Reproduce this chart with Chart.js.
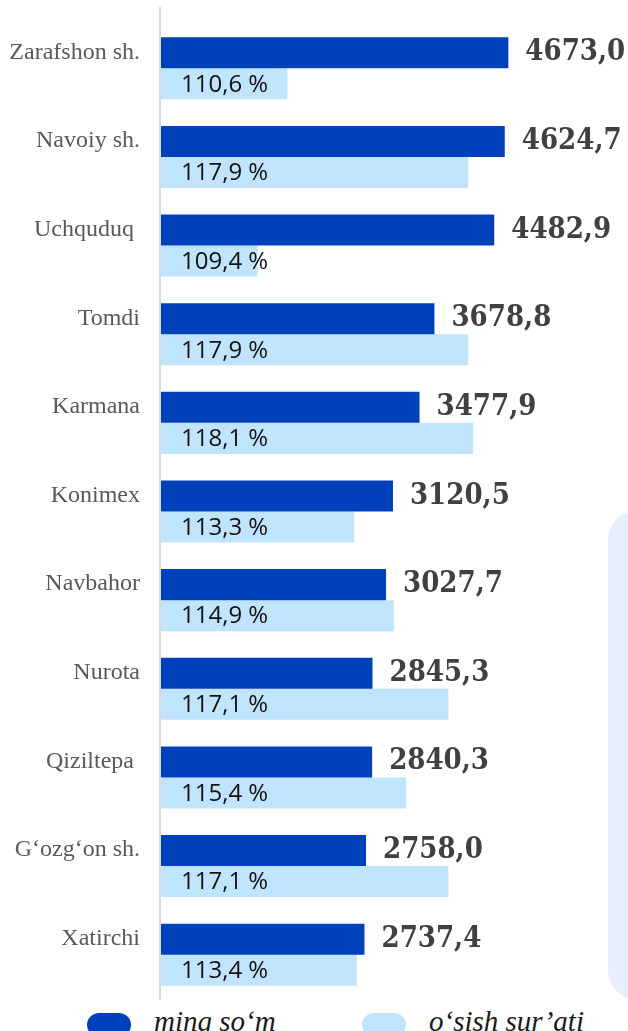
<!DOCTYPE html>
<html>
<head>
<meta charset="utf-8">
<script src="https://cdn.jsdelivr.net/npm/chart.js@4.4.1/dist/chart.umd.min.js"></script>
<style>
  body { margin: 0; background: #fff; width: 628px; height: 1031px; overflow: hidden; position: relative; }
  #panel { position: absolute; left: 608px; top: 510px; width: 60px; height: 490px; border-radius: 30px; background: #e9eefc; }
  #wrap { position: absolute; left: 0; top: 0; width: 628px; height: 1000px; }
  .lg-box { position: absolute; top: 1013px; width: 44px; height: 24px; border-radius: 12px; }
  .lg-txt { position: absolute; top: 1004px; font: italic 29px "Liberation Serif", serif; color: #1a1a1a; line-height: 34px; white-space: nowrap; }
</style>
</head>
<body>
<div id="panel"></div>
<div id="wrap"><canvas id="barChart"></canvas></div>
<div id="legend"></div>

<script>
// districts
var categories = ['Zarafshon sh.', 'Navoiy sh.', 'Uchquduq ', 'Tomdi', 'Karmana', 'Konimex',
                  'Navbahor', 'Nurota', 'Qiziltepa ', 'G\u2018ozg\u2018on sh.', 'Xatirchi'];
// ming so'm
var amounts = [4673.0, 4624.7, 4482.9, 3678.8, 3477.9, 3120.5, 3027.7, 2845.3, 2840.3, 2758.0, 2737.4];
// o'sish sur'ati, %
var growth = [110.6, 117.9, 109.4, 117.9, 118.1, 113.3, 114.9, 117.1, 115.4, 117.1, 113.4];
var seriesNames = ['ming so\u2018m', 'o\u2018sish sur\u2019ati'];
var seriesColors = ['#0040bb', '#bfe4fb'];

function comma(v) { return v.toFixed(1).replace('.', ','); }

var axisLine = {
    id: 'axisLine',
    beforeDatasetsDraw: function(chart) {
        var ctx = chart.ctx;
        ctx.save();
        ctx.strokeStyle = '#d9d9d9';
        ctx.lineWidth = 2;
        ctx.beginPath();
        ctx.moveTo(160, 7);
        ctx.lineTo(160, 1000);
        ctx.stroke();
        ctx.restore();
    }
};

var valueLabels = {
    id: 'valueLabels',
    afterDatasetsDraw: function(chart) {
        var ctx = chart.ctx;
        var left = chart.chartArea.left;
        ctx.save();
        ctx.textBaseline = 'middle';
        ctx.textAlign = 'left';
        chart.getDatasetMeta(0).data.forEach(function(bar, i) {
            ctx.font = 'bold 29px "DejaVu Serif Condensed", "DejaVu Serif", serif';
            ctx.fillStyle = '#404040';
            ctx.fillText(comma(amounts[i]), bar.x + 17, bar.y);
        });
        chart.getDatasetMeta(1).data.forEach(function(bar, i) {
            ctx.font = '24px "Open Sans", sans-serif';
            ctx.fillStyle = '#111';
            ctx.fillText(comma(growth[i]) + ' %', left + 20, bar.y + 1);
        });
        ctx.restore();
    }
};

var ctx = document.getElementById('barChart');
var chart = new Chart(ctx, {
    type: 'bar',
    data: {
        labels: categories,
        datasets: [
            { label: seriesNames[0], data: amounts, backgroundColor: seriesColors[0], xAxisID: 'x' },
            { label: seriesNames[1], data: growth, backgroundColor: seriesColors[1], xAxisID: 'x2' }
        ]
    },
    options: {
        indexAxis: 'y',
        responsive: true,
        maintainAspectRatio: false,
        animation: false,
        layout: { padding: { top: 24, right: 21, bottom: 1, left: 0 } },
        datasets: { bar: { categoryPercentage: 0.7, barPercentage: 1.0, borderWidth: 0 } },
        scales: {
            x: { display: false, min: 0, max: 6000 },
            x2: { display: false, min: 105.5, max: 123.5 },
            y: {
                grid: { display: false, drawTicks: false },
                border: { display: false },
                afterFit: function(scale) {
                    scale.width = 161;
                    scale.paddingTop = 0;
                    scale.paddingBottom = 0;
                },
                ticks: {
                    padding: 21,
                    labelOffset: -16,
                    color: '#595959',
                    font: { family: '"Liberation Serif", serif', size: 24 }
                }
            }
        },
        plugins: {
            legend: { display: false },
            tooltip: { enabled: false }
        }
    },
    plugins: [axisLine, valueLabels]
});

// legend
var legendX = [87, 362];
var legend = document.getElementById('legend');
chart.data.datasets.forEach(function(ds, i) {
    var box = document.createElement('div');
    box.className = 'lg-box';
    box.style.left = legendX[i] + 'px';
    box.style.background = ds.backgroundColor;
    legend.appendChild(box);
    var txt = document.createElement('div');
    txt.className = 'lg-txt';
    txt.style.left = (legendX[i] + 67) + 'px';
    txt.textContent = ds.label;
    legend.appendChild(txt);
});
</script>
</body>
</html>
